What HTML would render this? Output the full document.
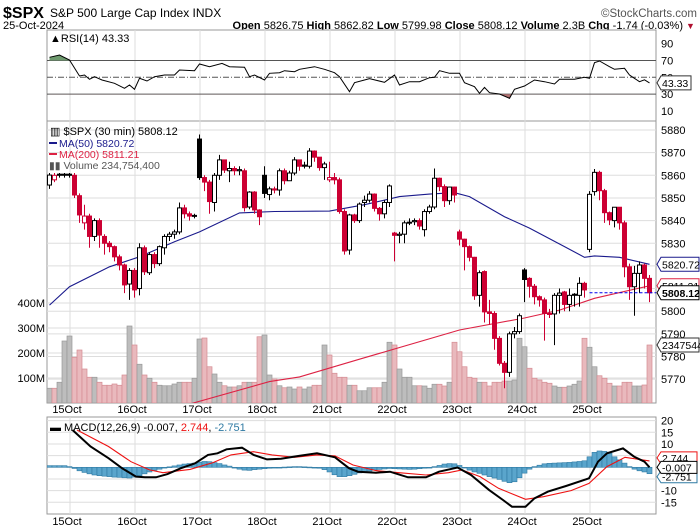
<!DOCTYPE html>
<html><head><meta charset="utf-8"><style>
body{margin:0;background:#fff;}
svg{display:block;font-family:"Liberation Sans",Arial,sans-serif;}
</style></head><body>
<svg id="chart" width="700" height="530" viewBox="0 0 700 530" xmlns="http://www.w3.org/2000/svg">
<defs>
<clipPath id="cpPrice"><rect x="47" y="121" width="609" height="282"/></clipPath>
<clipPath id="cpRsi"><rect x="47" y="30" width="609" height="91"/></clipPath>
<clipPath id="cpMacd"><rect x="47" y="417" width="609" height="97"/></clipPath>
</defs>
<rect x="0" y="0" width="700" height="530" fill="#fff"/>
<text x="3" y="18" font-size="16" font-weight="bold" fill="#000">$SPX</text>
<text x="50" y="17" font-size="12" fill="#000">S&amp;P 500 Large Cap Index  INDX</text>
<text x="697" y="17" font-size="11.5" fill="#555" text-anchor="end">©StockCharts.com</text>
<text x="3" y="29" font-size="11" fill="#000">25-Oct-2024</text>
<text x="683" y="29" font-size="11" fill="#000" text-anchor="end"><tspan font-weight="bold">Open</tspan> 5826.75 <tspan font-weight="bold">High</tspan> 5862.82 <tspan font-weight="bold">Low</tspan> 5799.98 <tspan font-weight="bold">Close</tspan> 5808.12 <tspan font-weight="bold">Volume</tspan> 2.3B <tspan font-weight="bold">Chg</tspan> -1.74 (-0.03%)</text>
<text x="686" y="29" font-size="9" fill="#b01030">▼</text>
<g id="layer"></g>
</svg>
<script>
// ---- data ----
const dayLabels = ["15Oct","16Oct","17Oct","18Oct","21Oct","22Oct","23Oct","24Oct","25Oct"];
const dayStartBar = [4.1,17.1,30.1,43.1,56.1,69.1,82.1,95.1,108.1];
const priceTicks = [5880,5870,5860,5850,5840,5830,5820,5810,5800,5790,5780,5770];
const volTicks = [100,200,300,400];
const volTickLabels = ["100M","200M","300M","400M"];
const rsiTicks = [90,70,50,30,10];
const macdTicks = [20,15,10,5,-5,-10,-15];
const opens = [5855.7,5858,5860.5,5860.5,5860.5,
5860,5851,5839,5842,5833,5840,5833,5830,5828.5,5824,5820.4,5812,5818,
5810,5828,5817,5825,5821,5828,5833,5834,5835,5845.6,5843,5842,
5876,5859,5857,5848,5860,5866.8,5862,5863,5862,5862,5846,5852.6,5844.7,
5860,5851.5,5854,5853.5,5862,5857.6,5861,5866.8,5864.5,5864,5870.7,5868,5863.4,
5858,5859,5858,5844,5827,5842.5,5840,5848,5849,5851.7,5845.4,5843,5848,
5834.5,5833.5,5834,5839,5839.5,5840,5836,5844,5846,5858.7,5855,5848.8,5854.8,
5835,5831.8,5828.5,5823.8,5807,5817.5,5799.7,5799,5788,5777,5773,5790,5791,
5818.2,5814.5,5811,5806.4,5805,5799,5798.8,5807,5808.5,5803,5807.5,5807,5812.3,
5827.3,5852.8,5861.3,5853.2,5843.5,5840,5845.9,5839,5819.6,5810.8,5816.7,5820.4,5814.5];
const closes = [5860.1,5860,5860,5860,5860,
5851.3,5842.5,5842,5833,5840,5833.6,5830,5828.5,5824,5820.4,5811.6,5818,5809.4,
5828,5817.4,5825,5821,5828.5,5833,5834,5835,5845.6,5843,5842,5842.3,
5859,5857,5848.4,5860,5866.8,5862.3,5863,5862,5862.5,5845.7,5852.6,5844.7,5841.7,
5852,5854,5853.5,5862,5857.6,5861,5866.8,5864,5864,5870.7,5868,5863.4,5865,
5859,5858,5844,5826.6,5842.5,5840,5847.3,5849,5851.7,5845.4,5843,5848,5855.3,
5833.5,5834,5839,5839.3,5840,5837.6,5844,5846,5858.7,5855,5848.8,5854.8,5851.3,
5831.8,5828.5,5823.8,5806.8,5817,5799.7,5799,5788,5777,5773,5790,5791,5798,
5814,5811,5806.4,5805,5799,5798.8,5807,5808,5803,5807,5807,5812.3,5809.4,
5851.6,5861.3,5853.2,5843.5,5840.3,5845.9,5839,5819.6,5810.8,5816.7,5820.4,5814.5,5808.12];
const highs = [5861,5861,5861,5861,5861,
5861,5852,5847,5843,5841,5841,5834,5831,5829,5825,5821,5819,5819,
5830,5829,5826,5826,5829,5834,5835,5836,5848,5847,5844,5843,
5878,5860,5858,5861,5869,5867,5866,5864,5864,5863,5853,5853,5845,
5864,5855,5855,5863,5863,5862,5868,5867,5866,5872,5871,5868,5866,
5866,5861,5859,5845,5843,5843,5848,5851,5853,5852,5846,5849,5856,
5835,5835,5840,5841,5841,5841,5845,5847,5863,5859,5856,5855,5855,
5836,5832,5829,5824,5818,5818,5805,5800,5789,5778,5791,5793,5799,
5819,5815,5812,5807,5806,5801,5808,5810,5809,5810,5808,5815,5813,
5853,5862.8,5862,5854,5844,5846,5846,5840,5821,5820,5822,5821,5816];
const lows = [5854,5857,5859,5859,5859,
5850,5839,5836,5828,5831,5828,5825,5826,5822,5818,5808,5805,5806,
5807,5816,5816,5819,5820,5825,5831,5832,5834,5841,5840,5841,
5858,5853,5843,5844,5858,5861,5857,5860,5860,5844,5845,5843,5838,
5850,5849,5852,5851,5856,5858,5860,5862,5863,5863,5866,5862,5858,
5857,5856,5843,5825,5825,5839,5839,5846,5848,5844,5840,5841,5846,
5822,5830,5830,5838,5838,5836,5833,5843,5845,5853,5846,5847,5848,
5829,5818,5822,5805,5802,5795,5794,5783,5776,5766,5771,5788,5790,
5804,5806,5803,5802,5787,5797,5785,5799,5800,5800,5802,5802,5806,
5826,5851,5849,5839,5838,5837,5836,5815,5805,5798,5808,5810,5804];
const volumes = [59,59,83,248,268,
183,212,136,103,103,83,71,71,76,71,112,308,232,
155,112,99,83,71,69,69,76,83,83,83,99,
256,260,145,116,83,69,64,64,69,83,83,83,265,
272,112,96,69,61,64,56,64,56,64,71,71,232,
192,119,103,103,71,71,49,
49,61,61,61,83,243,232,136,103,103,69,69,
68,59,75,75,68,83,243,205,145,103,99,83,83,68,83,83,88,88,92,259,225,139,99,92,83,79,68,63,63,68,75,88,259,223,145,109,99,79,68,68,83,83,68,68,72,232];
const ma50Bars = [0,4,12,18,25,30,38,45,56,63,70,76,81,84,91,96,103,107,109,114,120];
const ma50Vals = [5802.7,5810.8,5819.6,5824,5830.7,5835,5843.4,5844,5844.2,5847,5850.6,5851.7,5852.3,5850.6,5841.7,5836.7,5828.5,5823.8,5824.4,5823.8,5820.72];
const ma200Bars = [28,44,50,62,82,95,102,109,120];
const ma200Vals = [5759,5768.9,5771,5778.8,5791.7,5797,5800.5,5805.7,5811.21];
const rsiBars = [0,2,4,6,7,8,9,10.5,13,15,16,17,18,19.5,21,23,25,26,29,30,32,34.5,36,39,40,41,43,44,46,47,49,50,53,55,57,58,60,61,63,64,67,69,70,72,74,76,77,78,80,82,83,85,86,87,88,90,92,93,95,97,99,101,102,105,107,108,109,110,112,113,115,116,118,119,120];
const rsiVals = [73.8,76.5,70.6,51.5,52.7,47.6,50.7,46.8,42.9,36.9,40.8,35.7,48.8,45.6,50.7,52.7,52.7,58.7,57.9,65.8,62.6,66.6,62.6,61.9,50.7,52.7,46.8,54.8,55.5,57.9,56.7,59.5,62.6,59.5,55.5,50.7,32.9,43.6,46.8,48.4,44,52.7,40.8,44.8,44.8,49.5,50,57.9,54.8,54.8,43.6,38.8,31,38,31.7,30.1,25,35.7,39.6,46.8,44.8,42,47.6,47.6,50,48.8,67.4,69.4,62.6,59.5,60.7,52.7,44.8,47,43.33];
const macdBars = [4.6,8.2,11.8,14.5,17.3,19.1,21.3,23.6,26.3,29.1,31.7,33.6,35.4,38.5,40.8,43.5,46.3,49.9,53.5,57.1,59.9,61.7,65.3,68.1,71.7,75.3,77.9,81.6,84.3,87.9,90.7,92.5,95.2,97,99.7,103.3,107.9,109.7,111.5,114.7,116.9,119,120];
const macdVals = [16,8.9,3.9,-0.4,-4,-4.3,-4.3,-2.9,-0.4,1.7,5.3,6,7.7,8.4,5.3,3.4,3.7,4.9,6,4.3,-0.4,-1.9,-2.3,-1.9,-4.3,-4.3,-1.9,-0.1,-3.3,-9.7,-14,-16.9,-16.9,-13.3,-10.4,-8,-4.7,2.4,6,8.1,4.6,2.4,-0.007];
const signalBars = [5.5,11.8,16.3,20,22.7,28.1,32.7,36.3,40.8,44.5,49,53.5,57.1,60.7,65.3,69.9,75.3,79.8,82.5,86.1,89.8,95.2,98.8,104.3,107.9,111.5,115.1,120];
const signalVals = [16,8.9,2.4,-1.1,-2.3,-0.9,2,5.3,6.7,5.3,4.3,5.3,4.9,1,-1.4,-2.3,-3.3,-2.3,-1.1,-4,-9,-13.7,-12.6,-10,-6.9,0.3,4.3,2.744];
const histVals = [0.7,0.7,0.7,0.7,0.3,-0.5,-1.5,-2.2,-2.8,-3.3,-3.6,-3.8,-4,-4.2,-4.3,-4.5,-4.6,-4.2,-3.6,-2.8,-2,-1.3,-0.8,-0.3,0.2,0.6,1,1.4,1.6,1.8,2.2,2.5,2.4,2,1.6,1,0.5,-0.2,-0.8,-1.2,-1.3,-1,-0.8,-0.6,-0.4,-0.3,-0.2,0.1,0.2,0.3,0.3,0.2,0.1,0,-0.4,-1,-2,-3.2,-4,-4,-3.6,-3,-2.4,-2,-1.6,-1.2,-0.9,-0.7,-0.5,-0.6,-0.7,-0.8,-0.9,-0.8,-0.6,-0.4,-0.2,0.3,0.8,1.4,1.6,1.5,0.8,-0.3,-1.2,-2,-2.6,-3.3,-4,-4.6,-5.2,-6,-6.6,-6.2,-4.5,-2.5,-0.8,0.3,0.9,1.5,1.7,1.8,1.9,2,2.1,2.3,2.5,2.8,4.5,6.4,7,6.8,6,4.5,3.2,1.8,0.3,-0.8,-1.5,-2,-2.75];

// ---- scales ----
const NS = "http://www.w3.org/2000/svg";
const X0 = 47, X1 = 656;
function xOf(i){ return 49.5 + i*5; }
function yP(p){ return 130 + (5880-p)*2.265; }
function yV(v){ return 403 - v*0.25; }
function yR(r){ return 77.3 - (r-50)*0.84; }
function yM(m){ return 467.3 - m*2.333; }
const layer = document.getElementById('layer');
function mk(tag, attrs, parent){
  const e = document.createElementNS(NS, tag);
  for (const k in attrs) e.setAttribute(k, attrs[k]);
  (parent||layer).appendChild(e);
  return e;
}
function label(x,y,txt,size,fill,anchor,parent){
  const t = mk('text',{x:x,y:y,'font-size':size,fill:fill,'text-anchor':anchor||'start'},parent);
  t.textContent = txt;
  return t;
}

// ---- panels ----
const panels = [[30,121,'rsi-panel'],[121,403,'price-panel'],[417,514,'macd-panel']];
panels.forEach(p=>{
  const r = mk('rect',{x:X0,y:p[0],width:X1-X0,height:p[1]-p[0],fill:'#fff',stroke:'#999','stroke-width':1});
  
  
});

dayLabels.forEach((d,k)=>{
  const x = xOf(dayStartBar[k]);
  [[30,121],[121,403],[417,514]].forEach(p=>{
    const g = mk('line',{x1:x,x2:x,y1:p[0],y2:p[1],stroke:'#ddd','stroke-width':1});
    
    
  });
  const t1 = label(x-3,413,d,11,'#000','middle');
  
  
  const t2 = label(x-3,525,d,11,'#000','middle');
  
  
});

priceTicks.forEach(p=>{
  const y = yP(p);
  const g = mk('line',{x1:X0,x2:X1,y1:y,y2:y,stroke:'#ddd','stroke-width':1});
  
  
  const t = label(661,y+4,String(p),11,'#000');
  
  
});
volTicks.forEach((v,k)=>{
  const y = yV(v);
  const g = mk('line',{x1:X0,x2:X1,y1:y,y2:y,stroke:'#ddd','stroke-width':1});
  
  
  const t = label(45,y+4,volTickLabels[k],11,'#000','end');
  
  
});

// ---- volume ----
const gVol = mk('g',{'clip-path':'url(#cpPrice)'});
volumes.forEach((v,i)=>{
  const down = i>0 ? closes[i] < closes[i-1] : closes[i] < opens[i];
  const r = mk('rect',{x:xOf(i)-2.5,y:yV(v),width:5,height:403-yV(v),fill:down?'#e9b9bd':'#bdbdbd',stroke:down?'#d58c93':'#999','stroke-width':0.7},gVol);
  
  
});

function polyFrom(bars, vals, ys){
  return bars.map((b,k)=>xOf(b).toFixed(1)+','+ys(vals[k]).toFixed(1)).join(' ');
}
const gMa = mk('g',{'clip-path':'url(#cpPrice)'});
const ma200 = mk('polyline',{points:polyFrom(ma200Bars,ma200Vals,yP),fill:'none',stroke:'#dd2244','stroke-width':1.1},gMa);


const ma50 = mk('polyline',{points:polyFrom(ma50Bars,ma50Vals,yP),fill:'none',stroke:'#1a1a8c','stroke-width':1.1},gMa);



// ---- candles ----
const gC = mk('g',{'clip-path':'url(#cpPrice)'});
opens.forEach((o,i)=>{
  const c = closes[i];
  const prev = i>0 ? closes[i-1] : o;
  const red = c < prev;
  const filled = c < o;
  const col = red ? '#cc0033' : '#000';
  const x = xOf(i);
  const w = mk('line',{x1:x,x2:x,y1:yP(highs[i]),y2:yP(lows[i]),stroke:col,'stroke-width':1},gC);
  
  
  const top = yP(Math.max(o,c)), bot = yP(Math.min(o,c));
  const b = mk('rect',{x:x-2,y:top,width:4,height:Math.max(bot-top,1),fill:filled?col:'#fff',stroke:col,'stroke-width':1},gC);
  
  
});

const lastI = closes.length-1;
const dash = mk('line',{x1:xOf(108),x2:X1,y1:yP(closes[lastI]),y2:yP(closes[lastI]),stroke:'#0000ee','stroke-width':1,'stroke-dasharray':'3,2'});



function tag(y,txt,stroke,bold,name){
  const g = mk('g',{});
  
  
  mk('path',{d:`M657 ${y} L661 ${y-7} L699 ${y-7} L699 ${y+7} L661 ${y+7} Z`,fill:'#fff',stroke:stroke,'stroke-width':1},g);
  const t = label(662,y+4,txt,10.5,'#000','start',g);
  if (bold) t.setAttribute('font-weight','bold');
}
tag(yP(ma200Vals[ma200Vals.length-1]),'5811.21','#dd2244',false,'ma200-value-tag');
tag(yP(ma50Vals[ma50Vals.length-1]),'5820.72','#1a1a8c',false,'ma50-value-tag');
tag(yP(closes[lastI]),'5808.12','#000',true,'close-value-tag');
tag(yV(volumes[volumes.length-1]),'2347544','#333',false,'volume-value-tag');

const lg = mk('g',{});


label(50,135,'▥ $SPX (30 min) 5808.12',11,'#000','start',lg);
mk('rect',{x:49,y:142,width:8,height:2,fill:'#1a1a8c'},lg);
label(59,147,'MA(50) 5820.72',10.5,'#1a1a8c','start',lg);
mk('rect',{x:49,y:153,width:8,height:2,fill:'#dd2244'},lg);
label(59,158,'MA(200) 5811.21',10.5,'#dd2244','start',lg);
label(49,169,'▮▮ Volume 234,754,400',10.5,'#555','start',lg);

// ---- RSI ----
rsiTicks.forEach(r=>{
  const y = yR(r);
  const t = label(661,y+4,String(r),11,'#000');
  
  
});
[70,30].forEach(r=>{
  const l = mk('line',{x1:X0,x2:X1,y1:yR(r),y2:yR(r),stroke:'#555','stroke-width':1});
  
  
});
const mid = mk('line',{x1:X0,x2:X1,y1:yR(50),y2:yR(50),stroke:'#555','stroke-width':1,'stroke-dasharray':'6,2,1,2'});


const gR = mk('g',{'clip-path':'url(#cpRsi)'});
const ob = mk('clipPath',{id:'cpOb'}); mk('rect',{x:X0,y:0,width:609,height:yR(70)},ob);
const os = mk('clipPath',{id:'cpOs'}); mk('rect',{x:X0,y:yR(30),width:609,height:60},os);
const rsiPts = polyFrom(rsiBars,rsiVals,yR);
const fOb = mk('polygon',{points:xOf(rsiBars[0])+','+yR(70)+' '+rsiPts+' '+xOf(rsiBars[rsiBars.length-1])+','+yR(70),fill:'#6e9a6e','clip-path':'url(#cpOb)'},gR);


const fOs = mk('polygon',{points:xOf(rsiBars[0])+','+yR(30)+' '+rsiPts+' '+xOf(rsiBars[rsiBars.length-1])+','+yR(30),fill:'#b07070','clip-path':'url(#cpOs)'},gR);


const rl = mk('polyline',{points:rsiPts,fill:'none',stroke:'#000','stroke-width':1},gR);


const rlab = label(50,42,'▲RSI(14) 43.33',11,'#000');


const rt = mk('g',{});


const ry = yR(rsiVals[rsiVals.length-1]);
mk('path',{d:`M657 ${ry} L661 ${ry-7} L691 ${ry-7} L691 ${ry+7} L661 ${ry+7} Z`,fill:'#fff',stroke:'#333'},rt);
label(662,ry+4,'43.33',10.5,'#000','start',rt);

// ---- MACD ----
macdTicks.forEach(m=>{
  const y = yM(m);
  const g = mk('line',{x1:X0,x2:X1,y1:y,y2:y,stroke:'#ddd','stroke-width':1});
  
  
  const t = label(661,y+4,String(m),11,'#000');
  
  
});
const gM = mk('g',{'clip-path':'url(#cpMacd)'});
histVals.forEach((h,i)=>{
  const y0 = yM(0), y1 = yM(h);
  const r = mk('rect',{x:xOf(i)-2.5,y:Math.min(y0,y1),width:5,height:Math.max(Math.abs(y1-y0),0.8),fill:'#5aa5cc',stroke:'#2f7aa3','stroke-width':0.6},gM);
  
  
});
const sl = mk('polyline',{points:polyFrom(signalBars,signalVals,yM),fill:'none',stroke:'#ee1111','stroke-width':1.1},gM);


const ml = mk('polyline',{points:polyFrom(macdBars,macdVals,yM),fill:'none',stroke:'#000','stroke-width':2},gM);


const mlab = mk('text',{x:50,y:431,'font-size':11,fill:'#000'});


mlab.innerHTML = '▬ MACD(12,26,9) -0.007, <tspan fill="#ee1111">2.744</tspan>, <tspan fill="#2f7aa3">-2.751</tspan>';
function mtag(y,txt,stroke,name){
  const g = mk('g',{});
  
  
  mk('path',{d:`M657 ${y} L661 ${y-6} L697 ${y-6} L697 ${y+6} L661 ${y+6} Z`,fill:'#fff',stroke:stroke},g);
  label(662,y+4,txt,10.5,'#000','start',g);
}
mtag(yM(2.744)-3,'2.744','#ee1111','macd-signal-tag');
mtag(yM(-2.751)+3,'-2.751','#2f7aa3','macd-hist-tag');
mtag(yM(-0.007),'-0.007','#000','macd-value-tag');
</script>
</body></html>
